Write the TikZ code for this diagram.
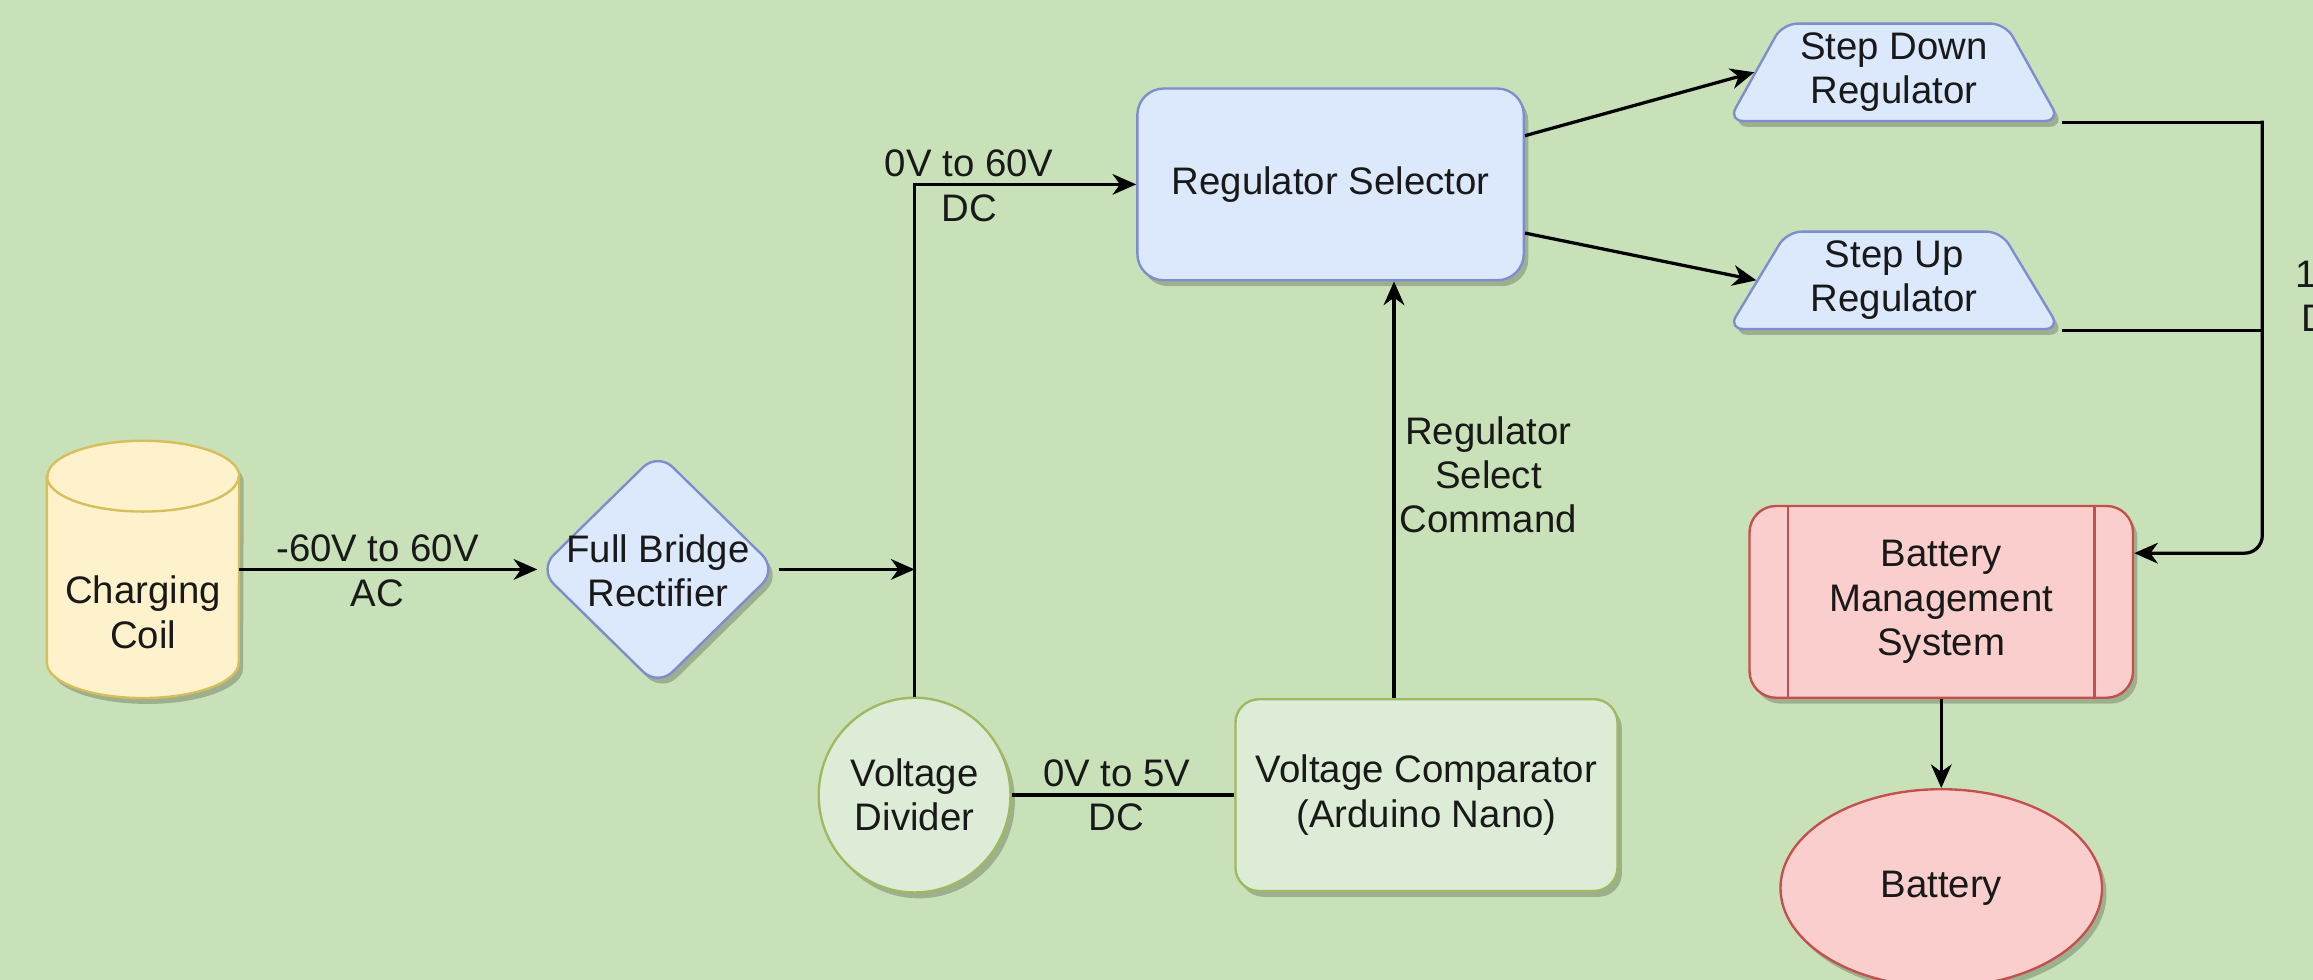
\documentclass[tikz,border=0pt]{standalone}
\usepackage{fontspec}
\setmainfont{Liberation Sans}
\usetikzlibrary{shapes.geometric, arrows.meta, shadows, calc}
\definecolor{bgc}{RGB}{201,225,184}
\definecolor{bluefill}{RGB}{220,232,252}
\definecolor{blueline}{RGB}{126,140,208}
\definecolor{greenfill}{RGB}{221,236,214}
\definecolor{greenline}{RGB}{160,185,96}
\definecolor{redfill}{RGB}{249,206,204}
\definecolor{redline}{RGB}{196,80,78}
\definecolor{coilfill}{RGB}{254,242,204}
\definecolor{coilline}{RGB}{214,190,90}
\definecolor{txtc}{RGB}{25,25,25}
\begin{document}
\begin{tikzpicture}[x=1pt,y=-1pt,
  txt/.style={font=\fontsize{26pt}{30pt}\selectfont, text=txtc, align=center, inner sep=0pt},
  shade/.style={drop shadow={shadow xshift=3pt, shadow yshift=-4pt, opacity=0.22, fill=black}},
  shapebase/.style={txt, line width=1.6pt, shade},
  bluebox/.style={shapebase, draw=blueline, fill=bluefill},
  greenbox/.style={shapebase, draw=greenline, fill=greenfill},
  redbox/.style={shapebase, draw=redline, fill=redfill},
  trap/.style={bluebox, trapezium, trapezium stretches=true, trapezium left angle=60, trapezium right angle=60, minimum width=225pt, minimum height=66pt, rounded corners=10pt},
  wire/.style={line width=2.2pt, draw=black},
  arr/.style={wire, -{Stealth[length=16pt,width=14pt,inset=5pt]}},
]
\path[use as bounding box, clip] (0,0) rectangle (1568,664);
\fill[bgc] (0,0) rectangle (1568,664);

% Charging coil (cylinder)
\node[minimum width=130pt, minimum height=174pt, inner sep=0pt] (coil) at (97,386) {};
\path[fill=coilfill, draw=coilline, line width=1.6pt, shade]
  ([yshift=-24pt]coil.north west) -- ([yshift=24pt]coil.south west)
  arc[start angle=180, end angle=360, x radius=65pt, y radius=24pt]
  -- ([yshift=-24pt]coil.north east)
  arc[start angle=0, end angle=180, x radius=65pt, y radius=24pt] -- cycle;
\draw[draw=coilline, line width=1.6pt] ([yshift=-24pt]coil.north west)
  arc[start angle=180, end angle=360, x radius=65pt, y radius=24pt];
\node[txt] (coiltext) at (97,415) {Charging\\Coil};

% Full bridge rectifier
\node[bluebox, diamond, minimum width=162pt, minimum height=159pt, rounded corners=14pt] (fbr) at (446,386) {};
\node[txt] (fbrtext) at (446,387) {Full Bridge\\Rectifier};

% Regulator selector
\node[bluebox, rounded corners=18pt, minimum width=262pt, minimum height=130pt] (regsel) at (902,125) {Regulator Selector};

% Regulators
\node[trap] (sd) at (1284,49) {Step Down\\Regulator};
\node[trap] (su) at (1284,190) {Step Up\\Regulator};

% Voltage divider and comparator
\node[greenbox, ellipse, minimum width=130pt, minimum height=132pt] (vd) at (620,539) {Voltage\\Divider};
\node[greenbox, rounded corners=16pt, minimum width=259pt, minimum height=130pt] (vc) at (967,539) {Voltage Comparator\\(Arduino Nano)};

% Battery management system
\node[redbox, rounded corners=18pt, minimum width=260pt, minimum height=130pt] (bms) at (1316,408) {Battery\\Management\\System};
\draw[draw=redline, line width=1.6pt] ([xshift=27pt]bms.north west) -- ([xshift=27pt]bms.south west);
\draw[draw=redline, line width=1.6pt] ([xshift=-27pt]bms.north east) -- ([xshift=-27pt]bms.south east);

% Battery
\node[redbox, ellipse, minimum width=218pt, minimum height=134pt] (bat) at (1316,602) {Battery};

% Connectors
\draw[arr] (coil.east) -- (fbr.west);
\node[txt] (lbl1) at (256,387) {-60V to 60V\\AC};

\coordinate (j1) at (fbr.east -| vd.north);
\draw[arr] (fbr.east) -- (j1);
\draw[arr] (vd.north) -- (vd.north |- regsel.west) -- (regsel.west);
\node[txt] (lbl2) at (657,126) {0V to 60V\\DC};

\draw[wire] (vd.east) -- (vc.west);
\node[txt] (lbl3) at (757,539) {0V to 5V\\DC};

\coordinate (cmd) at ([xshift=-22pt]vc.north);
\draw[arr] (cmd) -- (cmd |- regsel.south);
\node[txt] (lbl4) at (1009,322) {Regulator\\Select\\Command};

\draw[arr] ([yshift=33pt]regsel.east) -- (sd.west);
\draw[arr] ([yshift=-33pt]regsel.east) -- (su.west);

\path (sd.bottom right corner) ++(136,0) coordinate (bus);
\coordinate (bmsin) at ([yshift=33pt]bms.east);
\draw[wire] (sd.bottom right corner) -- (bus);
\draw[wire] (su.bottom right corner) -- (su.bottom right corner -| bus);
\draw[arr, rounded corners=12pt] ([yshift=1.1pt]bus) -- (bus |- bmsin) -- (bmsin);
\node[txt] (lbl5) at (1579,201) {12V\\DC};

\draw[arr] (bms.south) -- (bat.north);
\end{tikzpicture}
\end{document}
